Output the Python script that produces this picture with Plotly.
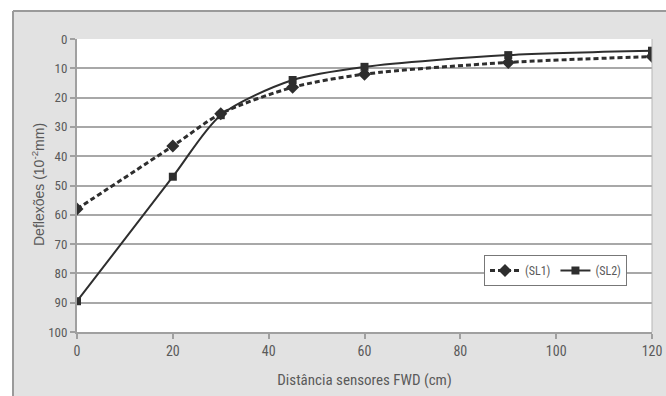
import plotly.graph_objects as go

distances = [0, 20, 30, 45, 60, 90, 120]
sl1 = [58, 36.5, 25.5, 16.5, 12, 8, 6]
sl2 = [89.5, 47, 26, 14, 9.5, 5.5, 4]
series_names = ["(SL1)", "(SL2)"]
x_ticks = [0, 20, 40, 60, 80, 100, 120]
y_ticks = [0, 10, 20, 30, 40, 50, 60, 70, 80, 90, 100]

FONT = "Liberation Sans Narrow, Arial Narrow, Roboto Condensed, Liberation Sans, Arial, sans-serif"
GRAY_TXT = "#5a5a5a"
BG = "#e2e2e2"

fig = go.Figure()
fig.add_trace(go.Scatter(
    x=distances, y=sl1, name=series_names[0], mode="lines+markers",
    line=dict(color="#2e2e2e", width=3, dash="5px,3px", shape="spline", smoothing=0.8),
    marker=dict(symbol="diamond", size=10, color="#2e2e2e"),
))
fig.add_trace(go.Scatter(
    x=distances, y=sl2, name=series_names[1], mode="lines+markers",
    line=dict(color="#2e2e2e", width=2, shape="spline", smoothing=0.8),
    marker=dict(symbol="square", size=8, color="#2e2e2e"),
))

L, R, T, B = 77, 652, 39, 332
W, H = 666, 396
pw, ph = R - L, B - T

def px(x):
    return (x - L) / pw

def py(y):
    return (B - y) / ph

shapes = [
    dict(type="rect", xref="paper", yref="paper", x0=px(0), x1=px(W), y0=py(11), y1=py(-5),
         fillcolor="white", line=dict(width=0), layer="below"),
    dict(type="rect", xref="paper", yref="paper", x0=px(-5), x1=px(13), y0=py(W), y1=py(-5),
         fillcolor="white", line=dict(width=0), layer="below"),
    dict(type="line", xref="paper", yref="paper", x0=px(13), x1=px(W), y0=py(11), y1=py(11),
         line=dict(color="#9a9a9a", width=2)),
    dict(type="line", xref="paper", yref="paper", x0=px(13), x1=px(13), y0=py(11), y1=py(W),
         line=dict(color="#9a9a9a", width=2)),
    dict(type="line", xref="paper", yref="paper", x0=1, x1=1, y0=0, y1=1,
         line=dict(color="#b5b5b5", width=1)),
]

fig.update_layout(
    width=W, height=H,
    margin=dict(l=L, r=W - R, t=T, b=H - B, autoexpand=False),
    paper_bgcolor=BG, plot_bgcolor="white",
    font=dict(family=FONT, color=GRAY_TXT, size=14),
    shapes=shapes,
    showlegend=True,
    legend=dict(
        orientation="h", x=px(484), y=py(255), xanchor="left", yanchor="top",
        bgcolor="white", bordercolor="#777777", borderwidth=1,
        font=dict(family=FONT, size=12, color=GRAY_TXT),
        itemwidth=30, tracegroupgap=0,
    ),
    annotations=[dict(
        text="Deflexões (10<sup>-2</sup>mm)", textangle=-90, showarrow=False,
        xref="paper", yref="paper", x=px(38), y=py(185), xanchor="center", yanchor="middle",
        font=dict(family="Liberation Sans, Arial, sans-serif", size=14, color=GRAY_TXT),
    )],
    xaxis=dict(
        range=[0, 120], tickvals=x_ticks, showgrid=False, zeroline=False,
        showline=True, linecolor="#a0a0a0", linewidth=2,
        ticks="outside", ticklen=5, tickcolor="#a0a0a0", tickwidth=2,
        tickfont=dict(family=FONT, size=14, color=GRAY_TXT),
        automargin=False,
        title=dict(text="Distância sensores FWD (cm)", standoff=17,
                   font=dict(family=FONT, size=15, color=GRAY_TXT)),
    ),
    yaxis=dict(
        range=[100, 0], tickvals=y_ticks, showgrid=True, gridcolor="#a8a8a8", gridwidth=2,
        zeroline=False, showline=True, linecolor="#a0a0a0", linewidth=2,
        ticks="outside", ticklen=5, tickcolor="#a0a0a0", tickwidth=2,
        tickfont=dict(family=FONT, size=13, color=GRAY_TXT),
        automargin=False,
    ),
)

fig.write_html("out.html", config={"displayModeBar": False},
               post_script="document.body.style.margin='0';")
